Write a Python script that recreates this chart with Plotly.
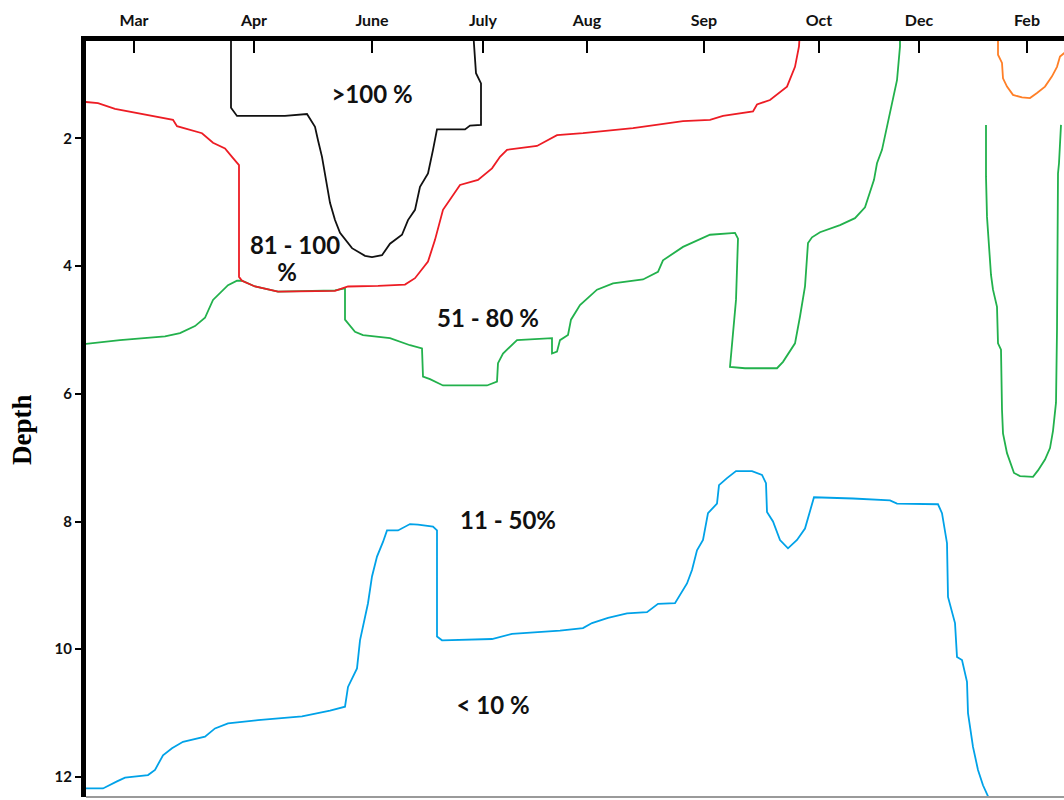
import plotly.graph_objects as go

# Sampling time axis (index units) and month markers along the top
MONTH_LABELS = ["Mar", "Apr", "June", "July", "Aug", "Sep", "Oct", "Dec", "Feb"]
MONTH_POS = [0.49, 1.69, 2.87, 3.98, 5.02, 6.19, 7.34, 8.34, 9.42]
DEPTH_TICKS = [2, 4, 6, 8, 10, 12]

# >100 % isoline
over100_t = [1.46, 1.46, 1.52, 2.00, 2.22, 2.30, 2.33, 2.37, 2.41, 2.45, 2.50, 2.55, 2.67,
             2.80, 2.87, 2.97, 3.05, 3.17, 3.23, 3.30, 3.35, 3.43, 3.48, 3.52, 3.80, 3.85,
             3.96, 3.96, 3.91, 3.90, 3.88]
over100_d = [0.30, 1.52, 1.65, 1.65, 1.62, 1.82, 2.03, 2.29, 2.65, 3.01, 3.28, 3.48, 3.72,
             3.84, 3.86, 3.83, 3.65, 3.51, 3.28, 3.12, 2.76, 2.55, 2.18, 1.86, 1.86, 1.80,
             1.79, 1.14, 0.98, 0.77, 0.30]

# 81-100 % isoline
r81_t = [0.00, 0.13, 0.30, 0.60, 0.88, 0.92, 1.17, 1.28, 1.40, 1.47, 1.54, 1.54, 1.57,
         1.70, 1.93, 2.50, 2.63, 2.93, 3.20, 3.30, 3.43, 3.50, 3.58, 3.75, 3.93, 4.07,
         4.15, 4.22, 4.52, 4.72, 4.98, 5.48, 5.98, 6.25, 6.38, 6.68, 6.72, 6.85, 7.02,
         7.10, 7.14, 7.15]
r81_d = [1.43, 1.45, 1.54, 1.63, 1.71, 1.81, 1.92, 2.07, 2.16, 2.29, 2.42, 4.17, 4.23,
         4.32, 4.40, 4.39, 4.32, 4.31, 4.29, 4.19, 3.93, 3.59, 3.12, 2.73, 2.65, 2.47,
         2.29, 2.18, 2.12, 1.95, 1.92, 1.84, 1.73, 1.71, 1.65, 1.58, 1.47, 1.40, 1.19,
         0.88, 0.56, 0.30]

# 51-80 % isoline
r51_t = [0.00, 0.35, 0.80, 0.95, 1.10, 1.20, 1.28, 1.43, 1.52, 1.57, 1.70, 1.93, 2.50,
         2.60, 2.60, 2.70, 2.78, 3.05, 3.25, 3.37, 3.38, 3.45, 3.58, 4.02, 4.12, 4.13,
         4.18, 4.32, 4.67, 4.67, 4.72, 4.75, 4.83, 4.86, 4.95, 5.12, 5.28, 5.58, 5.73,
         5.78, 5.98, 6.25, 6.50, 6.53, 6.51, 6.45, 6.60, 6.92, 6.98, 7.10, 7.15, 7.20,
         7.23, 7.27, 7.35, 7.55, 7.70, 7.80, 7.89, 7.92, 7.97, 8.02, 8.05, 8.08, 8.12,
         8.15, 8.15]
r51_d = [5.22, 5.16, 5.10, 5.05, 4.94, 4.81, 4.53, 4.30, 4.23, 4.23, 4.32, 4.40, 4.38,
         4.35, 4.84, 5.03, 5.08, 5.13, 5.24, 5.29, 5.73, 5.77, 5.87, 5.87, 5.81, 5.52,
         5.37, 5.16, 5.13, 5.37, 5.34, 5.16, 5.08, 4.84, 4.61, 4.37, 4.27, 4.21, 4.09,
         3.91, 3.70, 3.51, 3.48, 3.57, 4.53, 5.58, 5.60, 5.60, 5.50, 5.21, 4.79, 4.32,
         3.64, 3.55, 3.47, 3.36, 3.25, 3.08, 2.65, 2.39, 2.18, 1.82, 1.56, 1.35, 1.09,
         0.56, 0.30]

# 51-80 % closed pocket in the last months
r51b_t = [9.01, 9.01, 9.02, 9.04, 9.06, 9.08, 9.12, 9.13, 9.16, 9.17, 9.18, 9.22, 9.29,
          9.35, 9.48, 9.53, 9.60, 9.65, 9.68, 9.71, 9.72, 9.73, 9.74, 9.76]
r51b_d = [1.79, 2.60, 3.23, 3.75, 4.14, 4.37, 4.64, 5.21, 5.31, 6.25, 6.62, 6.93, 7.24,
          7.29, 7.30, 7.20, 7.03, 6.85, 6.58, 6.14, 5.00, 2.55, 2.39, 1.79]

# Orange isoline near the surface
orange_t = [9.13, 9.13, 9.17, 9.18, 9.22, 9.28, 9.37, 9.45, 9.52, 9.60, 9.67, 9.72, 9.75,
            9.79, 9.85]
orange_d = [0.30, 0.69, 0.82, 1.06, 1.19, 1.32, 1.36, 1.37, 1.29, 1.19, 1.03, 0.88, 0.72,
            0.67, 0.59]

# 11-50 % / <10 % boundary
r11_t = [0.00, 0.18, 0.32, 0.40, 0.63, 0.70, 0.78, 0.87, 0.98, 1.20, 1.30, 1.43, 1.73,
         2.17, 2.45, 2.60, 2.63, 2.72, 2.75, 2.80, 2.83, 2.87, 2.92, 2.98, 3.02, 3.13,
         3.25, 3.33, 3.48, 3.52, 3.52, 3.57, 4.07, 4.27, 4.75, 4.98, 5.07, 5.23, 5.42,
         5.62, 5.73, 5.90, 6.02, 6.07, 6.12, 6.18, 6.23, 6.32, 6.34, 6.42, 6.51, 6.67,
         6.77, 6.81, 6.82, 6.88, 6.95, 7.03, 7.12, 7.20, 7.29, 7.68, 8.05, 8.12, 8.53,
         8.57, 8.62, 8.63, 8.70, 8.72, 8.77, 8.82, 8.83, 8.88, 8.93, 8.98, 9.03, 9.07]
r11_d = [12.18, 12.18, 12.07, 12.01, 11.97, 11.89, 11.66, 11.55, 11.45, 11.37, 11.24,
         11.16, 11.11, 11.05, 10.96, 10.90, 10.59, 10.30, 9.86, 9.49, 9.28, 8.86, 8.55,
         8.32, 8.14, 8.14, 8.04, 8.05, 8.08, 8.14, 9.80, 9.86, 9.84, 9.76, 9.71, 9.67,
         9.59, 9.51, 9.44, 9.42, 9.29, 9.28, 8.97, 8.76, 8.45, 8.29, 7.87, 7.72, 7.43,
         7.32, 7.21, 7.21, 7.27, 7.40, 7.85, 8.00, 8.29, 8.42, 8.29, 8.11, 7.62, 7.64,
         7.67, 7.72, 7.73, 7.87, 8.34, 9.18, 9.59, 10.12, 10.17, 10.51, 11.00, 11.53,
         11.89, 12.13, 12.31, 12.44]

# Zone labels: text, time index, depth
zone_text = [">100 %", "81 - 100", "%", "51 - 80 %", "11 - 50%", "< 10 %"]
zone_t = [2.87, 2.10, 2.02, 4.03, 4.23, 4.08]
zone_d = [1.36, 3.72, 4.14, 4.86, 8.03, 10.92]

fig = go.Figure()

lines = [
    (r51_t, r51_d, "#22B14C"),
    (r51b_t, r51b_d, "#22B14C"),
    (orange_t, orange_d, "#FF7F27"),
    (r11_t, r11_d, "#00A2E8"),
    (over100_t, over100_d, "#111111"),
    (r81_t, r81_d, "#ED1C24"),
]
for t, d, c in lines:
    fig.add_trace(go.Scatter(x=t, y=d, mode="lines", line=dict(color=c, width=1.8),
                             hoverinfo="skip", showlegend=False))

fig.add_trace(go.Scatter(
    x=zone_t, y=zone_d, mode="text", text=zone_text,
    textfont=dict(family="Lato", size=24, color="#111111", weight="bold"),
    hoverinfo="skip", showlegend=False))

fig.add_shape(type="line", xref="paper", yref="paper", x0=0, x1=1, y0=0, y1=0,
              line=dict(color="#9a9a9a", width=2))

# Vertical axis title
fig.add_annotation(text="Depth", xref="paper", yref="paper", x=-0.0654, y=0.4854,
                   textangle=-90, showarrow=False, xanchor="center", yanchor="middle",
                   font=dict(family="Liberation Serif", size=27, color="black", weight="bold"))

fig.update_layout(
    width=1064, height=800,
    margin=dict(l=86, r=0, t=41, b=3),
    paper_bgcolor="white", plot_bgcolor="white",
    xaxis=dict(
        side="top", range=[0.01, 9.79], showgrid=False, zeroline=False,
        showline=True, linecolor="black", linewidth=5,
        tickmode="array", tickvals=MONTH_POS, ticktext=MONTH_LABELS,
        ticks="inside", ticklen=12, tickwidth=1.5, tickcolor="black",
        ticklabelstandoff=4,
        tickfont=dict(family="Lato", size=16, color="#111111", weight="bold"),
    ),
    yaxis=dict(
        range=[12.314, 0.476], showgrid=False, zeroline=False,
        showline=True, linecolor="black", linewidth=5,
        tickmode="array", tickvals=DEPTH_TICKS,
        ticks="outside", ticklen=6, tickwidth=1.5, tickcolor="black",
        tickfont=dict(family="Lato", size=15, color="#111111", weight="bold"),
    ),
)

fig.write_html("out.html")
